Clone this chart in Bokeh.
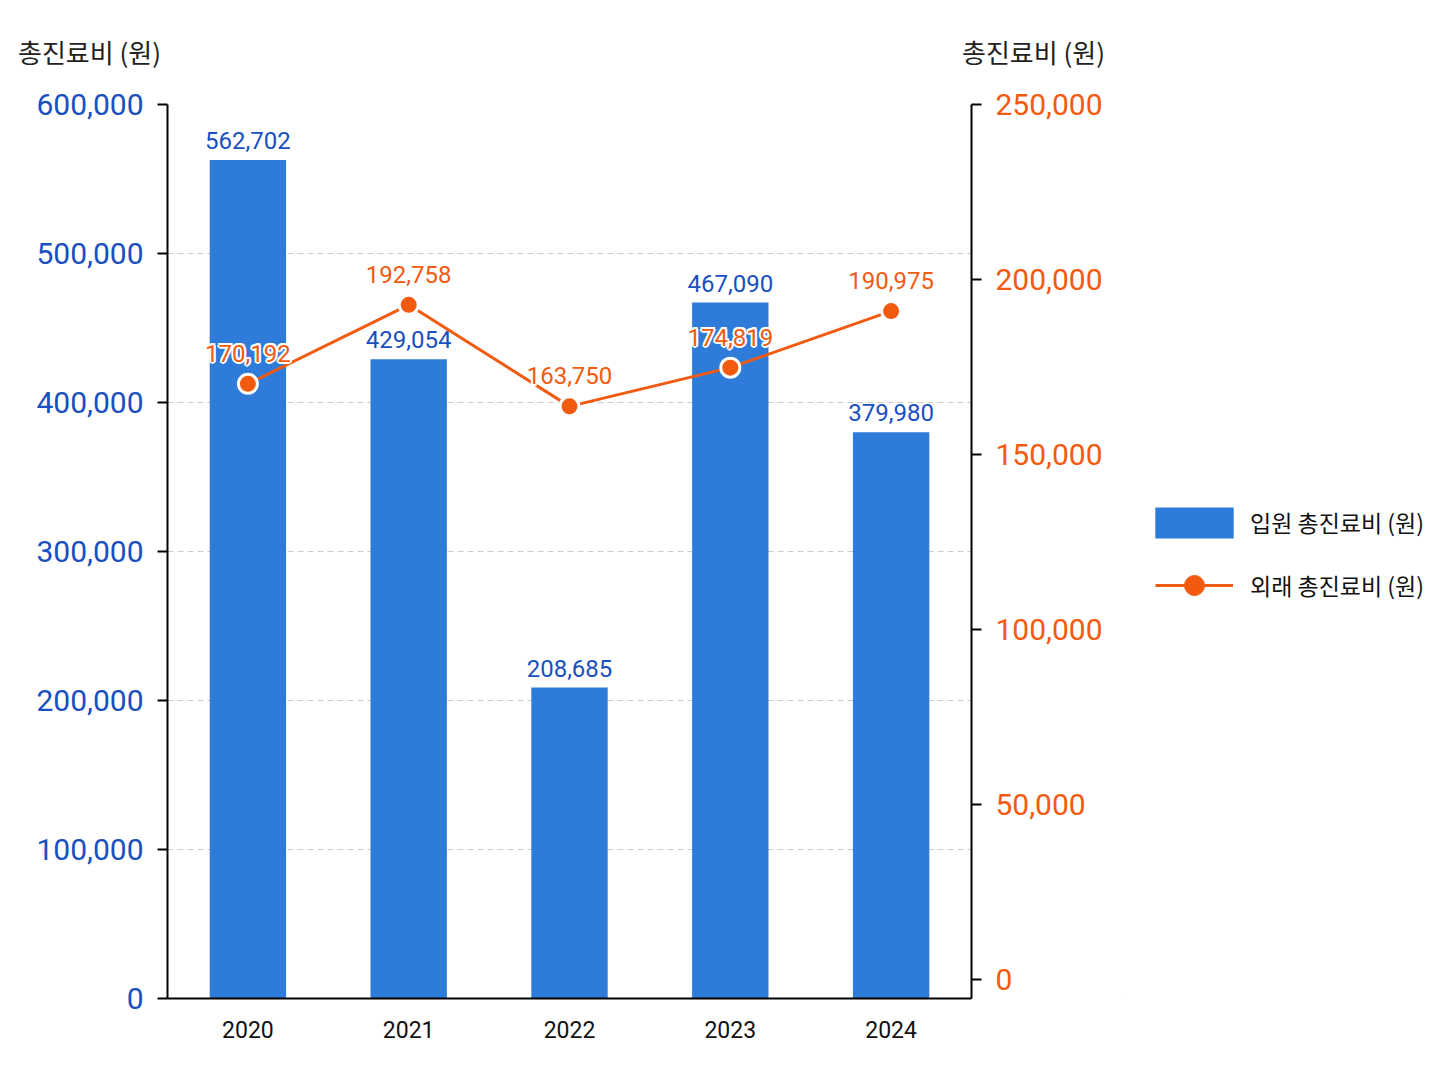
from bokeh.plotting import figure
from bokeh.layouts import column, row
from bokeh.models import (Range1d, LinearAxis, FactorRange, ColumnDataSource, Div,
                          Legend, LegendItem, NumeralTickFormatter, FixedTicker)
from bokeh.core.properties import value
from bokeh.embed import file_html
from bokeh.resources import INLINE

# ---- data ----
years = ["2020", "2021", "2022", "2023", "2024"]
inpatient = [562702, 429054, 208685, 467090, 379980]
outpatient = [170192, 192758, 163750, 174819, 190975]
left_ticks = [0, 100000, 200000, 300000, 400000, 500000, 600000]
right_ticks = [0, 50000, 100000, 150000, 200000, 250000]
series_names = ["입원 총진료비 (원)", "외래 총진료비 (원)"]
axis_title = "총진료비 (원)"

BLUE_BAR = "#2f7bd9"
BLUE_TXT = "#1a4fc0"
ORANGE = "#f25a10"
NUM_FONT = "Roboto"
KR_FONT = "Noto Sans CJK KR"

src = ColumnDataSource(dict(
    year=years,
    inp=inpatient,
    out=outpatient,
    inp_lbl=[f"{v:,}" for v in inpatient],
    out_lbl=[f"{v:,}" for v in outpatient],
))

DIV_H = 70
FIG_H = 1010
W1 = 1121
W2 = 320
FRAME_TOP = 104      # page y of the plot frame top
FRAME_BOTTOM = 998   # page y of the plot frame bottom

p = figure(width=W1, height=FIG_H, output_backend="svg", toolbar_location=None,
           x_range=FactorRange(factors=years, range_padding=0),
           y_range=Range1d(0, 600000),
           min_border_left=167, min_border_right=W1 - 167 - 804,
           min_border_top=FRAME_TOP - DIV_H,
           min_border_bottom=FIG_H - (FRAME_TOP - DIV_H) - (FRAME_BOTTOM - FRAME_TOP))
p.extra_y_ranges = {"right": Range1d(-5430, 250000)}
p.outline_line_color = None
p.background_fill_color = "white"

# grid
p.xgrid.grid_line_color = None
p.ygrid.ticker = FixedTicker(ticks=left_ticks)
p.ygrid.grid_line_color = "#cccccc"
p.ygrid.grid_line_dash = "6 4"
p.ygrid.grid_line_width = 1

# left axis
ya = p.yaxis[0]
ya.ticker = FixedTicker(ticks=left_ticks)
ya.formatter = NumeralTickFormatter(format="0,0")
ya.axis_line_color = "black"
ya.axis_line_width = 2
ya.major_tick_line_color = "black"
ya.major_tick_line_width = 2
ya.major_tick_out = 10
ya.major_tick_in = 0
ya.minor_tick_line_color = None
ya.major_label_standoff = 14
ya.major_label_text_font = NUM_FONT
ya.major_label_text_font_size = "30px"
ya.major_label_text_color = BLUE_TXT

# right axis
ra = LinearAxis(y_range_name="right", ticker=FixedTicker(ticks=right_ticks),
                formatter=NumeralTickFormatter(format="0,0"))
ra.axis_line_color = "black"
ra.axis_line_width = 2
ra.major_tick_line_color = "black"
ra.major_tick_line_width = 2
ra.major_tick_out = 10
ra.major_tick_in = 0
ra.minor_tick_line_color = None
ra.major_label_standoff = 14
ra.major_label_text_font = NUM_FONT
ra.major_label_text_font_size = "30px"
ra.major_label_text_color = ORANGE
p.add_layout(ra, "right")

# x axis
xa = p.xaxis[0]
xa.axis_line_color = "black"
xa.axis_line_width = 2
xa.major_tick_line_color = None
xa.minor_tick_line_color = None
xa.major_label_standoff = 16
xa.major_label_text_font = NUM_FONT
xa.major_label_text_font_size = "23px"
xa.major_label_text_color = "#111111"

# bars
bars = p.vbar(x="year", top="inp", width=0.475, source=src, fill_color=BLUE_BAR, line_color=None)
p.text(x="year", y="inp", text="inp_lbl", source=src, text_align="center", text_baseline="bottom",
       y_offset=-11, text_font=value(NUM_FONT), text_font_size="24px", text_color=BLUE_TXT)

# line
ln = p.line(x="year", y="out", source=src, y_range_name="right", line_color=ORANGE, line_width=3)
sc = p.scatter(x="year", y="out", source=src, y_range_name="right", size=19,
               fill_color=ORANGE, line_color="white", line_width=3)

# white halo behind the outpatient value labels
LBL_OFF = -22
for dx, dy in [(-2, 0), (2, 0), (0, -2), (0, 2), (-1.5, -1.5), (1.5, -1.5), (-1.5, 1.5), (1.5, 1.5)]:
    p.text(x="year", y="out", text="out_lbl", source=src, y_range_name="right",
           text_align="center", text_baseline="bottom", x_offset=dx, y_offset=LBL_OFF + dy,
           text_font=value(NUM_FONT), text_font_size="24px", text_color="white")
p.text(x="year", y="out", text="out_lbl", source=src, y_range_name="right",
       text_align="center", text_baseline="bottom", y_offset=LBL_OFF,
       text_font=value(NUM_FONT), text_font_size="24px", text_color=ORANGE)

# ---- legend panel (separate figure so nothing is clipped) ----
# its frame is aligned with the main frame by the row layout
q = figure(width=W2, height=FIG_H, output_backend="svg", toolbar_location=None,
           x_range=Range1d(0, 1), y_range=Range1d(0, 1),
           min_border_left=0, min_border_right=0, min_border_top=0, min_border_bottom=0)
q.axis.visible = False
q.grid.grid_line_color = None
q.outline_line_color = None
# swatch renderers: one point kept outside the visible range, used only by the legend
swatch = ColumnDataSource(dict(x=[-5], y=[-5]))
lb = q.vbar(x="x", top="y", width=0.5, source=swatch, fill_color=BLUE_BAR, line_color=None)
ll = q.line(x="x", y="y", source=swatch, line_color=ORANGE, line_width=3)
ls = q.scatter(x="x", y="y", source=swatch, size=19, fill_color=ORANGE, line_color=ORANGE)

common = dict(padding=0, margin=0,
              label_text_font=KR_FONT, label_text_font_size="23px",
              label_text_color="#111111", border_line_color=None,
              background_fill_alpha=0)
legA = Legend(items=[LegendItem(label=series_names[0], renderers=[lb])],
              location=(24, FRAME_BOTTOM - 522 - 19.5), glyph_width=98, glyph_height=39,
              label_height=39, label_standoff=7, **common)
legB = Legend(items=[LegendItem(label=series_names[1], renderers=[ll, ls])],
              location=(34, FRAME_BOTTOM - 585 - 25), glyph_width=78, glyph_height=50,
              label_height=50, label_standoff=17, **common)
q.add_layout(legA, "center")
q.add_layout(legB, "center")

title_style = ("position:absolute;top:35px;line-height:34px;white-space:nowrap;"
               "font-family:'Noto Sans CJK KR';font-size:26px;color:#222222;")
div = Div(width=W1 + W2, height=DIV_H, margin=0,
          text=(f'<div style="position:relative;width:{W1 + W2}px;height:{DIV_H}px;">'
                f'<span style="{title_style}left:18px;">{axis_title}</span>'
                f'<span style="{title_style}left:962px;">{axis_title}</span>'
                '</div>'))

layout = column(div, row(p, q, spacing=0), spacing=0)
open("out.html", "w").write(file_html(layout, INLINE))
